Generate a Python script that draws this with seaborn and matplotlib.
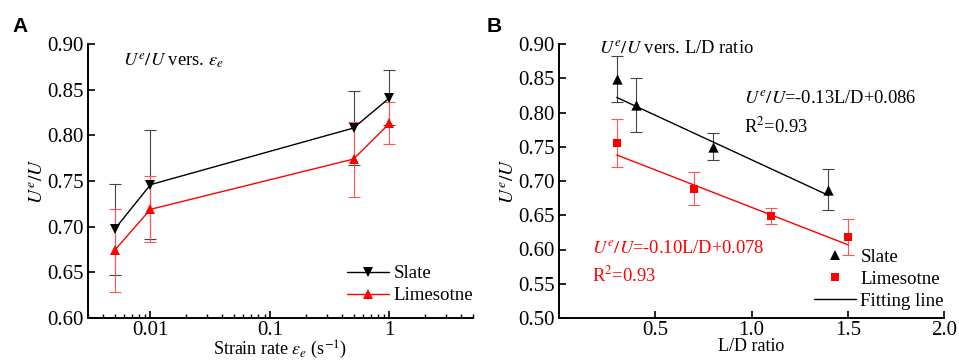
import numpy as np
import pandas as pd
import matplotlib
matplotlib.use("Agg")
import matplotlib.pyplot as plt
import seaborn as sns
from matplotlib.lines import Line2D
from matplotlib.ticker import LogLocator, FixedLocator, FuncFormatter

# ---------------- data ----------------
# Panel A: strain rate
rate = [0.005, 0.01, 0.5, 1.0]
slate_a = [0.697, 0.746, 0.808, 0.841]
slate_a_err = [0.050, 0.060, 0.040, 0.030]
lime_a = [0.674, 0.719, 0.774, 0.813]
lime_a_err = [0.045, 0.036, 0.041, 0.023]

# Panel B: L/D ratio
ld_slate = [0.3, 0.4, 0.8, 1.4]
slate_b = [0.849, 0.811, 0.750, 0.687]
slate_b_err = [0.034, 0.040, 0.020, 0.030]
ld_lime = [0.3, 0.7, 1.1, 1.5]
lime_b = [0.755, 0.689, 0.649, 0.618]
lime_b_err = [0.035, 0.024, 0.012, 0.026]

fit_slate_x = [0.3, 1.4]
fit_slate_y = [0.822, 0.679]
fit_lime_x = [0.3, 1.5]
fit_lime_y = [0.738, 0.607]

a_xticks = [0.01, 0.1, 1]
a_xticklabels = ["0.01", "0.1", "1"]
a_yticks = [0.60, 0.65, 0.70, 0.75, 0.80, 0.85, 0.90]
b_xticks = [0.5, 1.0, 1.5, 2.0]
b_yticks = [0.50, 0.55, 0.60, 0.65, 0.70, 0.75, 0.80, 0.85, 0.90]

# ---------------- style ----------------
sns.set_theme(style="ticks")
plt.rcParams["font.family"] = ["Liberation Serif", "DejaVu Serif"]
plt.rcParams["mathtext.fontset"] = "stix"
plt.rcParams["axes.linewidth"] = 1.4
plt.rcParams["xtick.direction"] = "in"
plt.rcParams["ytick.direction"] = "in"
plt.rcParams["axes.edgecolor"] = "black"
plt.rcParams["xtick.color"] = "black"
plt.rcParams["ytick.color"] = "black"
plt.rcParams["text.color"] = "black"
plt.rcParams["axes.labelcolor"] = "black"

FS = 13.3      # annotations
FX = 13        # x labels
FT = 15        # tick labels
FL = 13.6      # legend
RED = "#ff0000"

fig = plt.figure(figsize=(9.59, 3.6), dpi=100)
axA = fig.add_axes([88/959, 42/360, (473-88)/959, (318-44)/360])
axB = fig.add_axes([559/959, 42/360, (944-559)/959, (318-44)/360])

# ---------------- Panel A ----------------
dfA = pd.DataFrame({"rate": rate * 2,
                    "val": slate_a + lime_a,
                    "rock": ["Slate"] * 4 + ["Limesotne"] * 4})
axA.errorbar(rate, slate_a, yerr=slate_a_err, fmt="none", ecolor="#444444",
             elinewidth=0.8, capsize=4.5, capthick=0.8, zorder=2)
axA.errorbar(rate, lime_a, yerr=lime_a_err, fmt="none", ecolor="#ff5555",
             elinewidth=0.8, capsize=4.5, capthick=0.8, zorder=2)
sns.lineplot(data=dfA, x="rate", y="val", hue="rock", style="rock",
             palette={"Slate": "black", "Limesotne": RED},
             markers={"Slate": "v", "Limesotne": "^"}, dashes=False,
             markersize=7, markeredgewidth=0, linewidth=1.0, ax=axA,
             legend=False, zorder=3)
axA.set_xscale("log")
axA.set_xlim(0.003, 5)
axA.set_ylim(0.60, 0.90)
axA.set_yticks(a_yticks)
axA.set_yticklabels([f"{v:.2f}" for v in a_yticks], fontsize=FT)
axA.xaxis.set_major_locator(FixedLocator(a_xticks))
axA.set_xticklabels(a_xticklabels, fontsize=FT)
axA.xaxis.set_minor_locator(LogLocator(base=10, subs=np.arange(2, 10), numticks=20))
axA.xaxis.set_minor_formatter(FuncFormatter(lambda v, p: ""))
axA.tick_params(axis="y", which="major", length=5, width=1.2, pad=3)
axA.tick_params(axis="x", which="major", length=5, width=1.2, pad=2)
axA.tick_params(axis="x", which="minor", length=3, width=1.0)
axA.set_xlabel(r"Strain rate $\varepsilon_e$ (s$^{-1}$)", fontsize=FX, labelpad=-1)
axA.set_ylabel(r"$U^{e}/U$", fontsize=14, labelpad=0)
sns.despine(ax=axA)
axA.text(0.092, 0.935, r"$U^{e}/U$ vers. $\varepsilon_e$", transform=axA.transAxes,
         fontsize=FS, va="center", ha="left")
legA = [Line2D([0], [0], color="black", marker="v", markersize=7, markeredgewidth=0, lw=1.0),
        Line2D([0], [0], color=RED, marker="^", markersize=7, markeredgewidth=0, lw=1.0)]
axA.legend(legA, ["Slate", "Limesotne"], loc="lower right", frameon=False,
           fontsize=FL, handlelength=2.2, handletextpad=0.25, labelspacing=0.25,
           borderaxespad=0.0, borderpad=0.0, bbox_to_anchor=(1.0, 0.05))

# ---------------- Panel B ----------------
axB.errorbar(ld_slate, slate_b, yerr=slate_b_err, fmt="none", ecolor="#444444",
             elinewidth=0.8, capsize=4.5, capthick=0.8, zorder=2)
axB.errorbar(ld_lime, lime_b, yerr=lime_b_err, fmt="none", ecolor="#ff5555",
             elinewidth=0.8, capsize=4.5, capthick=0.8, zorder=2)
sns.scatterplot(x=ld_slate, y=slate_b, marker="^", color="black", s=55,
                linewidth=0, ax=axB, zorder=3)
sns.scatterplot(x=ld_lime, y=lime_b, marker="s", color=RED, s=40,
                linewidth=0, ax=axB, zorder=3)
sns.lineplot(x=fit_slate_x, y=fit_slate_y, color="black", linewidth=1.0, ax=axB, zorder=2)
sns.lineplot(x=fit_lime_x, y=fit_lime_y, color=RED, linewidth=1.0, ax=axB, zorder=2)
axB.set_xlim(0, 2.0)
axB.set_ylim(0.50, 0.90)
axB.set_xticks(b_xticks)
axB.set_xticklabels([f"{v:.1f}" for v in b_xticks], fontsize=FT)
axB.set_yticks(b_yticks)
axB.set_yticklabels([f"{v:.2f}" for v in b_yticks], fontsize=FT)
axB.tick_params(axis="y", which="major", length=5, width=1.2, pad=3)
axB.tick_params(axis="x", which="major", length=5, width=1.2, pad=2)
axB.set_xlabel("L/D ratio", fontsize=FX, labelpad=-1)
axB.set_ylabel(r"$U^{e}/U$", fontsize=14, labelpad=0)
sns.despine(ax=axB)
axB.text(0.103, 0.985, r"$U^{e}/U$ vers. L/D ratio", transform=axB.transAxes,
         fontsize=FS, va="center", ha="left")
axB.text(0.480, 0.80, r"$U^{e}/U$=-0.13L/D+0.086", transform=axB.transAxes,
         fontsize=FS, va="center", ha="left", color="black")
axB.text(0.480, 0.70, r"R$^{2}$=0.93", transform=axB.transAxes,
         fontsize=FS, va="center", ha="left", color="black")
axB.text(0.085, 0.254, r"$U^{e}/U$=-0.10L/D+0.078", transform=axB.transAxes,
         fontsize=FS, va="center", ha="left", color=RED)
axB.text(0.085, 0.156, r"R$^{2}$=0.93", transform=axB.transAxes,
         fontsize=FS, va="center", ha="left", color=RED)
legB = [Line2D([0], [0], color="black", marker="^", markersize=7, markeredgewidth=0, lw=0),
        Line2D([0], [0], color=RED, marker="s", markersize=6, markeredgewidth=0, lw=0),
        Line2D([0], [0], color="black", lw=1.0)]
axB.legend(legB, ["Slate", "Limesotne", "Fitting line"], loc="lower right",
           frameon=False, fontsize=FL, handlelength=2.2, handletextpad=0.25,
           labelspacing=0.25, borderaxespad=0.0, borderpad=0.0,
           bbox_to_anchor=(1.0, 0.03))

# panel letters
fig.text(12/959, 1 - 26/360, "A", fontsize=15, fontweight="bold",
         family="Liberation Sans", va="center", ha="left")
fig.text(487/959, 1 - 26/360, "B", fontsize=15, fontweight="bold",
         family="Liberation Sans", va="center", ha="left")

fig.savefig("out.png", dpi=100)
